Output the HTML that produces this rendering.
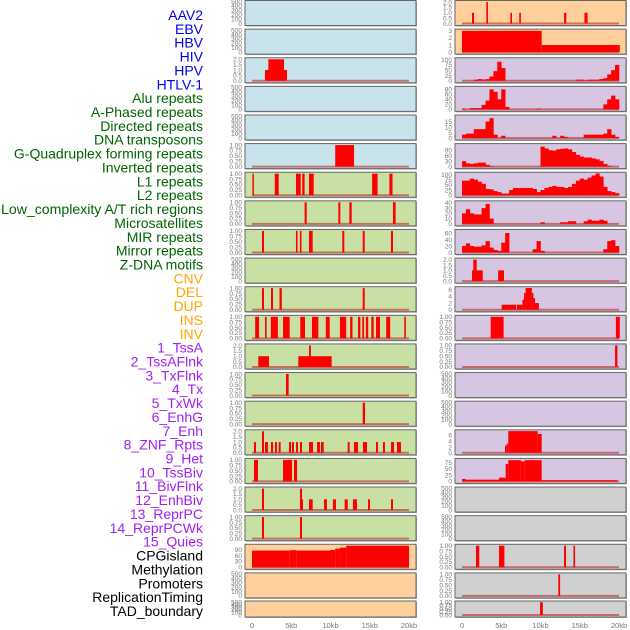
<!DOCTYPE html>
<html><head><meta charset="utf-8"><style>
html,body{margin:0;padding:0;background:#fff;width:630px;height:630px;overflow:hidden}
svg{display:block}
</style></head><body>
<svg id="chart" width="630" height="630" xmlns="http://www.w3.org/2000/svg" style="font-family:'Liberation Sans',sans-serif"></svg>
<script>
// ---- category labels ----
const trackLabels = ["AAV2","EBV","HBV","HIV","HPV","HTLV-1","Alu repeats","A-Phased repeats","Directed repeats","DNA transposons","G-Quadruplex forming repeats","Inverted repeats","L1 repeats","L2 repeats","Low_complexity A/T rich regions","Microsatellites","MIR repeats","Mirror repeats","Z-DNA motifs","CNV","DEL","DUP","INS","INV","1_TssA","2_TssAFlnk","3_TxFlnk","4_Tx","5_TxWk","6_EnhG","7_Enh","8_ZNF_Rpts","9_Het","10_TssBiv","11_BivFlnk","12_EnhBiv","13_ReprPC","14_ReprPCWk","15_Quies","CPGisland","Methylation","Promoters","ReplicationTiming","TAD_boundary"];
const xTickLabels = ["0","5kb","10kb","15kb","20kb"];
const xTickValues = [0,5,10,15,20];
const emptyTicks = [0,100,200,300,400,500];
const unitTicks = [0,0.25,0.5,0.75,1];
const twoTicks = [0,0.5,1,1.5,2];

// ---- segment data [startKb, endKb, value] ----
const hbvSegs = [[1.66,4.46,1],[2.08,4.08,2]];
const htlvSegs = [[10.6,13.0,1]];
const aluSegs = [[0.05,0.2,1],[2.9,3.4,1],[5.6,6.2,1],[6.4,6.7,1],[7.26,7.86,1],[15.3,16.0,1],[17.5,17.9,1]];
const aphSegs = [[6.7,6.97,1],[11.0,11.25,1],[12.4,12.7,1],[17.96,18.3,1]];
const dirSegs = [[1.27,1.53,1],[5.6,5.8,1],[6.1,6.3,1],[7.26,7.73,1],[11.5,11.76,1],[14.1,14.36,1],[17.7,17.96,1]];
const gqSegs = [[1.27,1.53,1],[2.42,2.68,1],[3.5,3.8,1],[14.1,14.36,1]];
const invSegs = [[0.4,0.9,1],[1.66,1.87,1],[2.4,3.3,1],[3.95,4.8,1],[6.15,6.75,1],[7.64,8.45,1],[9.4,9.9,1],[11.2,12.0,1],[12.5,12.8,1],[13.5,13.8,1],[14.05,14.27,1],[14.5,14.8,1],[15.2,15.5,1],[15.8,16.3,1],[17.1,17.6,1],[19.4,19.6,1]];
const l1Segs = [[0.8,2.17,1],[5.9,10.15,1],[7.26,7.5,2]];
const l2Segs = [[4.33,4.67,1]];
const lowSegs = [[14.1,14.4,1]];
const microSegs = [[0.25,0.51,1],[1.27,1.53,2],[1.66,2.04,1],[2.42,2.68,1],[2.93,3.18,1],[3.40,3.65,1],[4.71,4.97,1],[5.10,5.35,1],[5.61,5.86,1],[6.11,6.37,1],[7.26,7.77,1],[8.28,8.66,1],[8.79,9.13,1],[12.19,12.44,1],[12.99,13.50,1],[14.14,14.65,1],[15.80,16.05,1],[16.69,16.94,1],[17.71,18.09,1],[18.47,18.98,1]];
const mirSegs = [[0.25,0.76,1],[3.95,5.10,1],[5.35,5.74,1]];
const mirrorSegs = [[1.27,1.53,2],[6.11,6.37,2],[6.24,6.5,1],[7.26,7.73,1],[9.17,9.55,1],[10.3,10.7,1],[11.8,12.2,1],[12.86,13.37,1],[14.78,15.03,1],[17.71,17.96,1]];
const zdnaSegs = [[1.27,1.53,1],[6.11,6.37,1]];
const cnvSegs = [[0,4.8,85],[4.8,5.7,87],[5.7,10,85],[10,10.6,88],[10.6,11.2,95],[11.2,12,100],[12,20,110]];
const insSegs = [[1.27,1.53,1],[3.10,3.31,2],[6.16,6.37,1],[7.3,7.5,1],[13.0,13.28,1],[15.6,16.0,1]];
const invSvSegs = [[0,10.15,3],[10.15,20.1,1]];
const txwkSegs = [[1.27,2.64,1],[1.44,1.87,2],[4.6,5.35,1]];
const enhgSegs = [[5.05,6.9,1.5],[7.0,7.7,1.5],[7.7,7.9,3],[7.9,8.1,5],[8.1,8.9,6.5],[8.9,9.1,5],[9.1,9.3,3.5],[9.3,9.8,2]];
const enhSegs = [[3.65,5.3,1],[19.6,20.1,1]];
const znfSegs = [[19.5,19.8,1]];
const bivSegs = [[5.48,5.69,2.5],[5.69,5.9,3.2],[5.9,9.64,7.5],[9.64,10.15,6.5]];
const enhBivSegs = [[0,0.47,10],[0.47,4.71,7],[4.71,5.56,15],[5.56,5.9,70],[5.9,7.5,85],[7.5,8.0,80],[8.0,10.15,85],[10.15,19.8,5]];
const reprSegs = [[1.78,2.2,1],[4.71,5.4,1],[13.0,13.25,1],[14.2,14.4,1]];
const promSegs = [[12.27,12.5,1]];
const tadSegs = [[9.94,10.3,1]];

// ---- binned data (0.5kb bins, 40 per track) ----
const tssaBins = [0,0,0,5,8,6,8,20,45,90,60,0,0,0,0,0,0,0,0,0,0,0,0,0,0,0,0,0,0,5,5,2,5,5,5,8,12,30,50,75];
const tssaflnkBins = [3,0,5,5,5,18,35,80,70,40,80,10,0,0,0,0,0,0,0,3,0,0,0,0,0,0,0,0,0,0,0,0,0,0,0,0,20,40,55,40];
const txflnkBins = [3,4,4,8,8,8,15,18,3,0,2,0,0,0,0,0,0,0,0,0,0,0,0,2,0,2,1,0,0,0,0,3,3,3,3,3,4,8,3,1];
const txBins = [30,18,15,18,22,22,10,3,0,0,0,0,0,0,0,0,0,0,0,0,110,100,90,88,95,98,100,95,80,65,55,50,50,45,40,30,15,5,0,0];
const delBins = [70,70,80,75,65,55,30,28,20,15,8,8,25,35,35,35,35,35,30,15,25,35,40,45,40,40,35,40,55,70,80,75,85,95,105,90,40,20,15,10];
const dupBins = [20,28,20,18,18,30,38,10,0,0,0,0,0,0,0,0,0,0,0,0,3,0,0,0,0,3,3,5,5,0,0,5,8,6,6,8,6,0,0,0];
const hetBins = [20,28,20,18,18,22,35,15,8,5,30,60,0,0,0,0,0,0,10,35,5,0,0,0,0,0,0,0,0,0,0,0,0,0,0,0,10,35,38,20];

const BG = {blue:"#c8e3eb",green:"#c9e0a5",orange:"#ffd09c",purple:"#d6c6e2",gray:"#d0d0d0"};
const tracks = [
 // col 0
 {c:0,r:0,bg:"blue",ticks:emptyTicks,ymax:500},
 {c:0,r:1,bg:"blue",ticks:emptyTicks,ymax:500},
 {c:0,r:2,bg:"blue",ticks:twoTicks,ymax:2.05,segs:hbvSegs},
 {c:0,r:3,bg:"blue",ticks:emptyTicks,ymax:500},
 {c:0,r:4,bg:"blue",ticks:emptyTicks,ymax:500},
 {c:0,r:5,bg:"blue",ticks:unitTicks,ymax:1.02,segs:htlvSegs},
 {c:0,r:6,bg:"green",ticks:unitTicks,ymax:1.02,segs:aluSegs},
 {c:0,r:7,bg:"green",ticks:unitTicks,ymax:1.02,segs:aphSegs},
 {c:0,r:8,bg:"green",ticks:unitTicks,ymax:1.02,segs:dirSegs},
 {c:0,r:9,bg:"green",ticks:emptyTicks,ymax:500},
 {c:0,r:10,bg:"green",ticks:unitTicks,ymax:1.02,segs:gqSegs},
 {c:0,r:11,bg:"green",ticks:unitTicks,ymax:1.02,segs:invSegs},
 {c:0,r:12,bg:"green",ticks:twoTicks,ymax:2.05,segs:l1Segs},
 {c:0,r:13,bg:"green",ticks:unitTicks,ymax:1.02,segs:l2Segs},
 {c:0,r:14,bg:"green",ticks:unitTicks,ymax:1.02,segs:lowSegs},
 {c:0,r:15,bg:"green",ticks:twoTicks,ymax:2.05,segs:microSegs},
 {c:0,r:16,bg:"green",ticks:unitTicks,ymax:1.02,segs:mirSegs},
 {c:0,r:17,bg:"green",ticks:twoTicks,ymax:2.05,segs:mirrorSegs},
 {c:0,r:18,bg:"green",ticks:unitTicks,ymax:1.02,segs:zdnaSegs},
 {c:0,r:19,bg:"orange",ticks:[0,30,60,90],ymax:112,segs:cnvSegs},
 {c:0,r:20,bg:"orange",ticks:emptyTicks,ymax:500},
 {c:0,r:21,bg:"orange",ticks:emptyTicks,ymax:500},
 // col 1
 {c:1,r:0,bg:"orange",ticks:twoTicks,ymax:2.05,segs:insSegs},
 {c:1,r:1,bg:"orange",ticks:[0,1,2,3],ymax:3.1,segs:invSvSegs},
 {c:1,r:2,bg:"purple",ticks:[0,25,50,75,100],ymax:104,bins:tssaBins},
 {c:1,r:3,bg:"purple",ticks:[0,20,40,60,80],ymax:88,bins:tssaflnkBins},
 {c:1,r:4,bg:"purple",ticks:[0,5,10,15],ymax:20,bins:txflnkBins},
 {c:1,r:5,bg:"purple",ticks:[0,30,60,90],ymax:121,bins:txBins},
 {c:1,r:6,bg:"purple",ticks:[0,25,50,75,100],ymax:106,bins:delBins},
 {c:1,r:7,bg:"purple",ticks:[0,10,20,30,40],ymax:42,bins:dupBins},
 {c:1,r:8,bg:"purple",ticks:[0,20,40,60],ymax:68,bins:hetBins},
 {c:1,r:9,bg:"purple",ticks:twoTicks,ymax:2.05,segs:txwkSegs},
 {c:1,r:10,bg:"purple",ticks:[0,2,4,6],ymax:6.6,segs:enhgSegs},
 {c:1,r:11,bg:"purple",ticks:unitTicks,ymax:1.02,segs:enhSegs},
 {c:1,r:12,bg:"purple",ticks:unitTicks,ymax:1.02,segs:znfSegs},
 {c:1,r:13,bg:"purple",ticks:emptyTicks,ymax:500},
 {c:1,r:14,bg:"purple",ticks:emptyTicks,ymax:500},
 {c:1,r:15,bg:"purple",ticks:[0,2,4,6],ymax:7.6,segs:bivSegs},
 {c:1,r:16,bg:"purple",ticks:[0,25,50,75],ymax:88,segs:enhBivSegs},
 {c:1,r:17,bg:"gray",ticks:emptyTicks,ymax:500},
 {c:1,r:18,bg:"gray",ticks:emptyTicks,ymax:500},
 {c:1,r:19,bg:"gray",ticks:unitTicks,ymax:1.02,segs:reprSegs},
 {c:1,r:20,bg:"gray",ticks:unitTicks,ymax:1.02,segs:promSegs},
 {c:1,r:21,bg:"gray",ticks:unitTicks,ymax:1.02,segs:tadSegs}
];

const NS="http://www.w3.org/2000/svg";
const svg=document.getElementById('chart');
function mk(tag,attrs,parent){const e=document.createElementNS(NS,tag);for(const k in attrs)e.setAttribute(k,attrs[k]);(parent||svg).appendChild(e);return e;}
const colX=[245,455], panelW=171;
function rowTop(r){return r===21?601:0.5+28.62*r;}
function rowH(r){return r===21?16:25;}
function xScale(c,kb){return colX[c]+7+kb/20*157;}
function fmt(ticks,v){const m=Math.max(...ticks);if(m===1)return v.toFixed(2);if(m===2)return v.toFixed(1);return String(v);}

// labels
const labelColor=i=>i<6?"#0000ee":i<19?"#006400":i<24?"#ffa500":i<39?"#a020f0":"#000";
trackLabels.forEach((t,i)=>{
  const e=mk('text',{x:203,y:15+i*13.86+5,'text-anchor':'end','font-size':14,fill:labelColor(i)});
  
  
  if(t.length>28){e.setAttribute('textLength',202);e.setAttribute('lengthAdjust','spacingAndGlyphs');}
  e.textContent=t;
});

tracks.forEach(p=>{
  const top=rowTop(p.r),h=rowH(p.r),x0=colX[p.c];
  const g=mk('g',{});
  
  
  mk('rect',{x:x0+1,y:top+1,width:panelW,height:h,fill:'#aaa'},g);
  mk('rect',{x:x0,y:top,width:panelW,height:h,fill:BG[p.bg],stroke:'#666','stroke-width':1},g);
  const yb=top+h-2, yt=top+1;
  const yS=v=>yb-(v/p.ymax)*(yb-yt);
  p.ticks.forEach(t=>{
    const e=mk('text',{x:x0-3,y:yS(t)+2.3,'text-anchor':'end','font-size':6.5,fill:'#777'},g);
    
    
    e.textContent=fmt(p.ticks,t);
  });
  if(p.segs||p.bins){
    mk('line',{x1:xScale(p.c,0),x2:xScale(p.c,20),y1:yb,y2:yb,stroke:'rgba(190,40,40,0.6)','stroke-width':2},g);
  }
  if(p.segs){
    p.segs.forEach(s=>{
      const a=xScale(p.c,s[0]),b=xScale(p.c,s[1]);
      const r=mk('rect',{x:a,y:yS(s[2]),width:Math.max(b-a,1.5),height:yb-yS(s[2]),fill:'#ff0000'},g);
      
      
    });
  }
  if(p.bins){
    p.bins.forEach((v,i)=>{
      if(v<=0)return;
      const a=xScale(p.c,i*0.5),b=xScale(p.c,(i+1)*0.5);
      const r=mk('rect',{x:a,y:yS(v),width:b-a+0.3,height:yb-yS(v),fill:'#ff0000'},g);
      
      
    });
  }
});

// x axes
[0,1].forEach(c=>{
  xTickValues.forEach((v,i)=>{
    const e=mk('text',{x:xScale(c,v),y:628,'text-anchor':'middle','font-size':7.5,fill:'#777'});
    
    
    e.textContent=xTickLabels[i];
  });
});
</script>
</body></html>
